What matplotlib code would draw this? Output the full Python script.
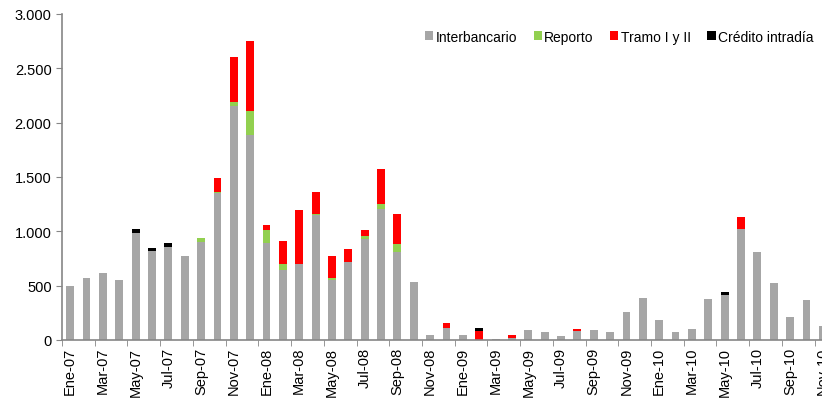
import numpy as np
import matplotlib.pyplot as plt
from matplotlib.ticker import FuncFormatter

plt.rcParams['font.family'] = ['Liberation Sans', 'DejaVu Sans']

meses = ['Ene', 'Feb', 'Mar', 'Abr', 'May', 'Jun',
         'Jul', 'Ago', 'Sep', 'Oct', 'Nov', 'Dic']
labels = ['%s-%02d' % (m, y) for y in (7, 8, 9, 10) for m in meses][:47]

# Ene-07 .. Nov-10 (millones)
interbancario = [495, 575, 615, 555, 985, 815, 860, 770, 900, 1350, 2150, 1890,
                 895, 645, 700, 1150, 555, 715, 930, 1210, 810, 535, 45, 115,
                 45, 0, 12, 20, 95, 75, 35, 85, 95, 75, 260, 390,
                 180, 75, 105, 380, 415, 1025, 810, 525, 215, 370, 125]
reporto = [0, 0, 0, 0, 0, 0, 0, 0, 35, 15, 40, 220,
           115, 55, 0, 10, 15, 5, 25, 40, 70, 0, 0, 0,
           0, 0, 0, 0, 0, 0, 0, 0, 0, 0, 0, 0,
           0, 0, 0, 0, 0, 0, 0, 0, 0, 0, 0]
tramo = [0, 0, 0, 0, 0, 0, 0, 0, 0, 125, 415, 645,
         50, 215, 495, 200, 200, 115, 55, 320, 275, 0, 0, 45,
         0, 85, 0, 25, 0, 0, 0, 20, 0, 0, 0, 0,
         0, 0, 0, 0, 0, 105, 0, 0, 0, 0, 0]
intradia = [0, 0, 0, 0, 35, 28, 30, 0, 0, 0, 0, 0,
            0, 0, 0, 0, 0, 0, 0, 0, 0, 0, 0, 0,
            0, 30, 0, 0, 0, 0, 0, 0, 0, 0, 0, 0,
            0, 0, 0, 0, 30, 0, 0, 0, 0, 0, 0]

x = np.arange(len(labels))
w = 0.48
b1 = np.array(interbancario)
b2 = b1 + np.array(reporto)
b3 = b2 + np.array(tramo)

fig = plt.figure(figsize=(8.22, 4.02), dpi=100)
ax = fig.add_axes([62/822, 61/402, 769/822, 326/402])

ax.bar(x, interbancario, w, color='#A6A6A6', label='Interbancario')
ax.bar(x, reporto, w, bottom=b1, color='#92D050', label='Reporto')
ax.bar(x, tramo, w, bottom=b2, color='#FF0000', label='Tramo I y II')
ax.bar(x, intradia, w, bottom=b3, color='#000000', label='Crédito intradía')

ax.set_xlim(-0.5, len(labels) - 0.5)
ax.set_ylim(0, 3000)
ax.set_yticks(np.arange(0, 3001, 500))
ax.yaxis.set_major_formatter(FuncFormatter(lambda v, p: '{:,.0f}'.format(v).replace(',', '.')))

ax.set_xticks(x[::2])
ax.set_xticklabels(labels[::2], rotation=90)
ax.set_xticks(np.arange(-0.5, len(labels), 2), minor=True)
ax.tick_params(axis='x', which='major', length=0, pad=5, labelsize=10.5)
ax.tick_params(axis='x', which='minor', length=4, color='#868686')
ax.tick_params(axis='y', length=4, color='#868686', labelsize=10.5)

for s in ['top', 'right']:
    ax.spines[s].set_visible(False)
for s in ['left', 'bottom']:
    ax.spines[s].set_color('#868686')
    ax.spines[s].set_linewidth(1.2)

ax.legend(loc='upper right', bbox_to_anchor=(816/822, 374/402),
          bbox_transform=fig.transFigure, ncol=4, frameon=False,
          handlelength=0.6, handleheight=0.6, handletextpad=0.15,
          columnspacing=1.2, borderaxespad=0, borderpad=0.2, fontsize=10)

fig.savefig('out.png', dpi=100)
